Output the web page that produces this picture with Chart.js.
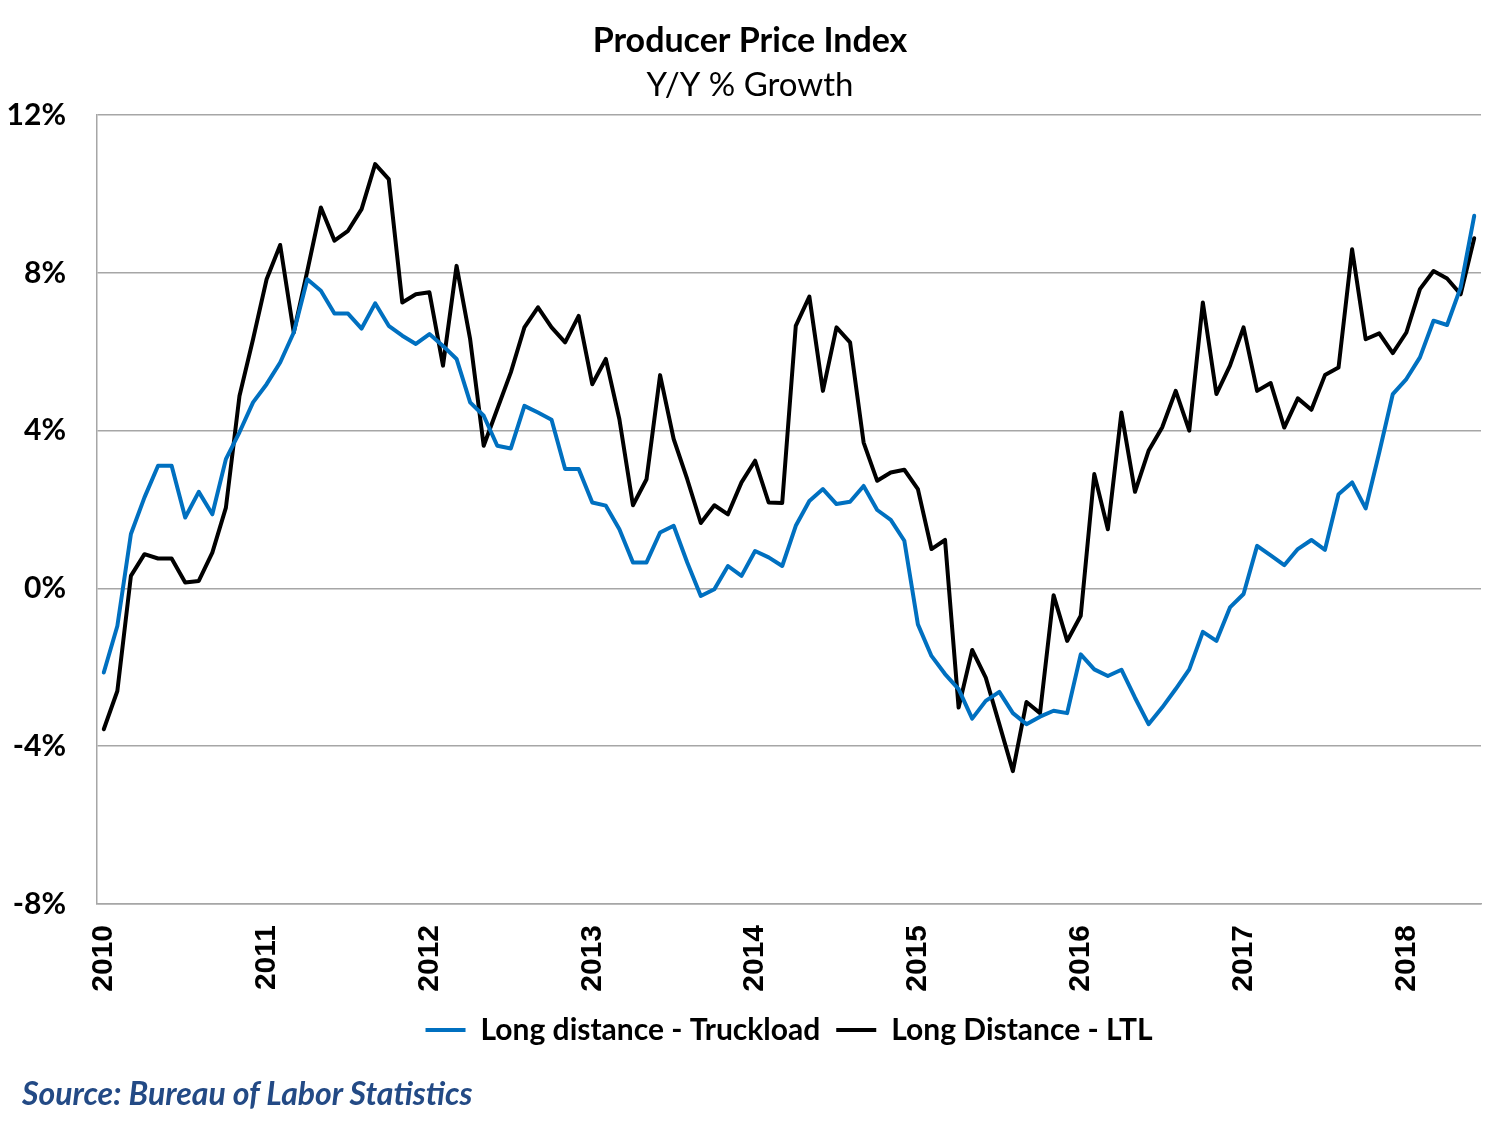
<!DOCTYPE html>
<html><head><meta charset="utf-8">
<script src="https://cdn.jsdelivr.net/npm/chart.js@4.4.1/dist/chart.umd.min.js"></script>
<style>
html,body{margin:0;padding:0;background:#fff;}
#wrap{position:relative;width:1500px;height:1133px;}
#source{position:absolute;left:22px;top:1074px;font-family:Lato,"Open Sans",sans-serif;font-style:italic;font-weight:bold;font-size:32px;line-height:38px;color:#234A85;white-space:nowrap;}
</style></head><body>
<div id="wrap"><canvas id="c" width="1500" height="1133"></canvas><div id="source">Source: Bureau of Labor Statistics</div></div>
<script>
const years = ['2010','2011','2012','2013','2014','2015','2016','2017','2018'];
const monthsInLastYear = 6;
const categories = [];
years.forEach((y, yi) => {
  const n = yi === years.length - 1 ? monthsInLastYear : 12;
  for (let m = 1; m <= n; m++) categories.push(y + '-' + String(m).padStart(2, '0'));
});
const yTicks = [-8, -4, 0, 4, 8, 12];

const truckload = [
  -2.13,-0.95,1.38,2.31,3.11,3.11,1.80,2.45,1.88,3.28,3.96,4.72,
  5.18,5.73,6.49,7.84,7.55,6.97,6.97,6.59,7.23,6.66,6.41,6.20,
  6.45,6.15,5.82,4.72,4.38,3.62,3.55,4.63,4.46,4.28,3.03,3.03,
  2.18,2.10,1.50,0.66,0.66,1.42,1.59,0.66,-0.19,-0.02,0.57,0.32,
  0.95,0.79,0.57,1.59,2.22,2.52,2.14,2.20,2.60,1.99,1.74,1.21,
  -0.91,-1.71,-2.17,-2.55,-3.30,-2.85,-2.62,-3.16,-3.44,-3.25,-3.10,-3.16,
  -1.67,-2.05,-2.22,-2.06,-2.77,-3.44,-3.02,-2.55,-2.05,-1.10,-1.33,-0.48,
  -0.14,1.08,0.84,0.59,1.00,1.23,0.98,2.39,2.69,2.03,3.45,4.93,
  5.31,5.86,6.79,6.68,7.63,9.45
];
const ltl = [
  -3.57,-2.60,0.32,0.87,0.76,0.76,0.15,0.19,0.91,2.05,4.88,6.32,
  7.84,8.71,6.49,8.05,9.66,8.82,9.07,9.62,10.76,10.38,7.25,7.46,
  7.51,5.65,8.18,6.32,3.62,4.55,5.48,6.62,7.13,6.62,6.24,6.91,
  5.18,5.82,4.29,2.11,2.77,5.41,3.79,2.77,1.66,2.11,1.88,2.69,
  3.24,2.18,2.17,6.66,7.40,5.01,6.62,6.24,3.70,2.73,2.94,3.01,
  2.52,1.00,1.23,-3.02,-1.56,-2.26,-3.44,-4.63,-2.88,-3.16,-0.17,-1.33,
  -0.69,2.90,1.50,4.46,2.45,3.49,4.08,5.01,4.00,7.25,4.93,5.65,
  6.62,5.01,5.21,4.08,4.82,4.53,5.41,5.60,8.60,6.32,6.47,5.97,
  6.49,7.59,8.05,7.86,7.46,8.88
];

const seriesNames = ['Long distance - Truckload', 'Long Distance - LTL'];
const seriesColors = ['#0070C0', '#000000'];

const shiftPlugin = {
  id: 'shiftBoxes',
  afterLayout(chart) {
    const ca = chart.chartArea;
    chart.boxes.forEach(b => {
      if (b === chart.legend) { b.left = ca.left; b.right = ca.right; }
      else if (b.axis === undefined && b.options && b.options.text !== undefined) { b.left = 0; b.right = chart.width; }
    });
  }
};

new Chart(document.getElementById('c'), {
  type: 'line',
  data: {
    labels: categories,
    datasets: [
      { label: seriesNames[0], data: truckload, borderColor: seriesColors[0], backgroundColor: seriesColors[0], borderWidth: 4, pointRadius: 0, tension: 0, borderJoinStyle: 'round', borderCapStyle: 'round' },
      { label: seriesNames[1], data: ltl, borderColor: seriesColors[1], backgroundColor: seriesColors[1], borderWidth: 4, pointRadius: 0, tension: 0, borderJoinStyle: 'round', borderCapStyle: 'round' }
    ]
  },
  options: {
    responsive: false,
    animation: false,
    layout: { padding: { left: 0, right: 19, top: 0, bottom: 78 } },
    plugins: {
      title: { display: true, text: 'Producer Price Index', color: '#000', font: { family: 'Lato', size: 34, weight: 'bold', lineHeight: 1.1 }, padding: { top: 22, bottom: 4 } },
      subtitle: { display: true, text: 'Y/Y % Growth', color: '#000', font: { family: 'Lato', size: 33, weight: 'normal', lineHeight: 1.1 }, padding: { top: 3.5, bottom: 12 } },
      legend: {
        position: 'bottom',
        labels: { color: '#000', font: { family: 'Lato', size: 30, weight: 'bold' }, usePointStyle: true, pointStyle: 'line', pointStyleWidth: 40, padding: 16 }
      },
      tooltip: { enabled: false }
    },
    scales: {
      x: {
        type: 'category',
        offset: true,
        grid: { display: false, drawTicks: false },
        border: { display: true, color: '#A6A6A6', width: 1.5 },
        ticks: {
          autoSkip: false, maxRotation: 90, minRotation: 90, padding: 21,
          color: '#000', font: { family: 'Liberation Sans', size: 30, weight: 'bold' },
          callback: function(v, i) { return i % 12 === 0 ? years[i / 12] : ''; }
        },
        afterFit: s => { s.height = 95; s.paddingLeft = 0; s.paddingRight = 0; }
      },
      y: {
        min: -8, max: 12,
        afterBuildTicks: s => { s.ticks = yTicks.map(v => ({ value: v })); },
        grid: { color: '#A6A6A6', lineWidth: 1.5, drawTicks: false },
        border: { display: true, color: '#A6A6A6', width: 1.5 },
        ticks: { padding: 31, color: '#000', font: { family: 'Lato', size: 30, weight: 'bold' }, callback: v => v + '%' },
        afterFit: s => { s.width = 97; s.paddingTop = 0; s.paddingBottom = 0; }
      }
    }
  },
  plugins: [shiftPlugin]
});
</script>
</body></html>
